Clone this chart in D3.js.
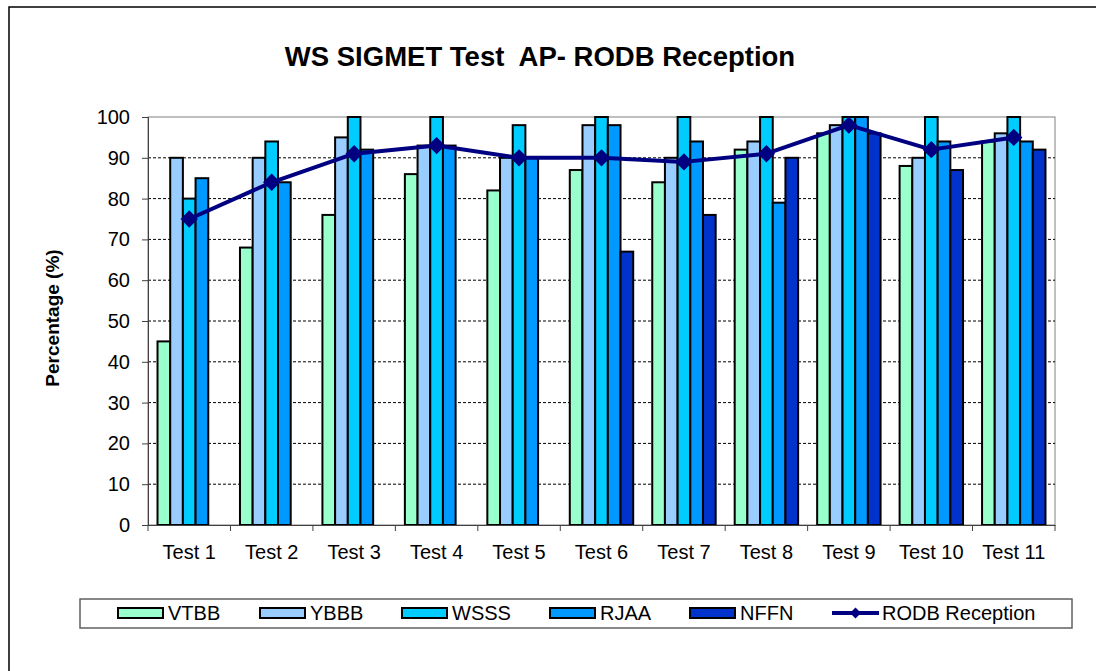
<!DOCTYPE html>
<html>
<head>
<meta charset="utf-8">
<script src="https://cdn.jsdelivr.net/npm/d3@7"></script>
<style>
  body { margin: 0; background: #fff; }
  text { font-family: 'Liberation Sans', Arial, sans-serif; }
</style>
</head>
<body>
<div id="chart"></div>
<script>
// data
const tests = ['Test 1', 'Test 2', 'Test 3', 'Test 4', 'Test 5', 'Test 6', 'Test 7', 'Test 8', 'Test 9', 'Test 10', 'Test 11']
const seriesNames = ['VTBB', 'YBBB', 'WSSS', 'RJAA', 'NFFN']
const vtbb = [45, 68, 76, 86, 82, 87, 84, 92, 96, 88, 94]
const ybbb = [90, 90, 95, 93, 90, 98, 90, 94, 98, 90, 96]
const wsss = [80, 94, 100, 100, 98, 100, 100, 100, 100, 100, 100]
const rjaa = [85, 84, 92, 93, 90, 98, 94, 79, 100, 94, 94]
const nffn = [null, null, null, null, null, 67, 76, 90, 96, 87, 92]
const rodb = [75, 84, 91, 93, 90, 90, 89, 91, 98, 92, 95]
const yTicks = [0, 10, 20, 30, 40, 50, 60, 70, 80, 90, 100]

const seriesValues = [vtbb, ybbb, wsss, rjaa, nffn]
const colors = ['#99FFCC', '#99CCFF', '#00CCFF', '#0099FF', '#0033CC']
const lineColor = '#000080'

// Dimensions
const dimensions = {
  width: 1096,
  height: 671,
  margins: { left: 148, right: 41, top: 117, bottom: 146 },
}
const ctrW = dimensions.width - dimensions.margins.left - dimensions.margins.right
const ctrH = dimensions.height - dimensions.margins.top - dimensions.margins.bottom

// Scales
const xScale = d3.scaleBand().domain(tests).range([0, ctrW]).padding(0)
const subScale = d3.scaleBand().domain(seriesNames).range([0, xScale.bandwidth()]).paddingInner(0).paddingOuter(0.75)
const yScale = d3.scaleLinear().domain([0, 100]).range([ctrH, 0])

const svg = d3
  .select('#chart')
  .append('svg')
  .attr('width', dimensions.width)
  .attr('height', dimensions.height)

// outer chart border
svg.append('rect')
  .attr('x', 9).attr('y', 7)
  .attr('width', dimensions.width + 20).attr('height', dimensions.height + 20)
  .attr('fill', 'none').attr('stroke', '#000').attr('stroke-width', 1.5)

// title
svg.append('text')
  .attr('x', 540).attr('y', 66)
  .attr('text-anchor', 'middle')
  .style('white-space', 'pre')
  .style('font-size', '27.5px').style('font-weight', 'bold')
  .text('WS SIGMET Test  AP- RODB Reception')

const ctr = svg.append('g')
  .attr('transform', `translate(${dimensions.margins.left}, ${dimensions.margins.top})`)

// plot area border
ctr.append('rect')
  .attr('width', ctrW).attr('height', ctrH)
  .attr('fill', 'none').attr('stroke', '#808080').attr('stroke-width', 1)

// gridlines
ctr.append('g')
  .selectAll('line')
  .data(yTicks.filter((d) => d > 0 && d < 100))
  .join('line')
  .attr('x1', 0).attr('x2', ctrW)
  .attr('y1', (d) => yScale(d)).attr('y2', (d) => yScale(d))
  .attr('stroke', '#000').attr('stroke-width', 1).attr('stroke-dasharray', '3,2')

// bars
const groups = ctr.selectAll('g.group')
  .data(tests)
  .join('g')
  .attr('class', 'group')
  .attr('transform', (d) => `translate(${xScale(d)},0)`)

groups.selectAll('rect')
  .data((t, i) => seriesNames.map((s, j) => ({ s, j, v: seriesValues[j][i] })).filter((d) => d.v != null))
  .join('rect')
  .attr('x', (d) => subScale(d.s))
  .attr('width', subScale.bandwidth())
  .attr('y', (d) => yScale(d.v))
  .attr('height', (d) => ctrH - yScale(d.v))
  .attr('fill', (d) => colors[d.j])
  .attr('stroke', '#000').attr('stroke-width', 2)

// y axis
const yAxis = d3.axisLeft(yScale).tickValues(yTicks).tickSize(6).tickPadding(12)
const yAxisGroup = ctr.append('g').call(yAxis)
yAxisGroup.select('.domain').attr('stroke', '#404040')
yAxisGroup.selectAll('.tick line').attr('stroke', '#404040')
yAxisGroup.selectAll('text').style('font-size', '20px').attr('fill', '#000')
  .style('font-family', "'Liberation Sans', Arial, sans-serif")

// x axis
const xAxis = d3.axisBottom(xScale).tickSize(0).tickPadding(20)
const xAxisGroup = ctr.append('g').attr('transform', `translate(0, ${ctrH})`).call(xAxis)
xAxisGroup.select('.domain').attr('stroke', '#404040')
xAxisGroup.selectAll('text').style('font-size', '20px').attr('fill', '#000')
  .style('font-family', "'Liberation Sans', Arial, sans-serif")
xAxisGroup.selectAll('.bound')
  .data(tests.map((t) => xScale(t)).concat([ctrW]))
  .join('line')
  .attr('class', 'bound')
  .attr('x1', (d) => d).attr('x2', (d) => d)
  .attr('y1', 0).attr('y2', 6)
  .attr('stroke', '#404040')

// line series
const line = d3.line()
  .x((d, i) => xScale(tests[i]) + xScale.bandwidth() / 2)
  .y((d) => yScale(d))
ctr.append('path')
  .datum(rodb)
  .attr('d', line)
  .attr('fill', 'none').attr('stroke', lineColor).attr('stroke-width', 4)
  .attr('stroke-linejoin', 'round')

const diamond = d3.symbol().type(d3.symbolSquare).size(150)
ctr.selectAll('.marker')
  .data(rodb)
  .join('path')
  .attr('class', 'marker')
  .attr('d', diamond)
  .attr('transform', (d, i) => `translate(${xScale(tests[i]) + xScale.bandwidth() / 2}, ${yScale(d)}) rotate(45)`)
  .attr('fill', lineColor)

// y label
svg.append('text')
  .attr('transform', 'translate(59, 318) rotate(-90)')
  .attr('text-anchor', 'middle')
  .style('font-size', '19px').style('font-weight', 'bold')
  .text('Percentage (%)')

// legend
const legend = svg.append('g')
legend.append('rect')
  .attr('x', 80).attr('y', 599).attr('width', 992).attr('height', 29)
  .attr('fill', '#fff').attr('stroke', '#606060').attr('stroke-width', 1.5)

const legendX = [118, 260, 402, 550, 690]
const legendItems = legend.selectAll('g.item')
  .data(seriesNames)
  .join('g')
  .attr('class', 'item')
  .attr('transform', (d, i) => `translate(${legendX[i]}, 608)`)
legendItems.append('rect')
  .attr('width', 45).attr('height', 10)
  .attr('fill', (d, i) => colors[i])
  .attr('stroke', '#000').attr('stroke-width', 2)
legendItems.append('text')
  .attr('x', 50).attr('y', 12)
  .style('font-size', '20px')
  .text((d) => d)

const lineItem = legend.append('g').attr('transform', 'translate(832, 613)')
lineItem.append('line')
  .attr('x1', 0).attr('x2', 47)
  .attr('stroke', lineColor).attr('stroke-width', 4)
lineItem.append('path')
  .attr('d', d3.symbol().type(d3.symbolSquare).size(60))
  .attr('transform', 'translate(23.5, 0) rotate(45)')
  .attr('fill', lineColor)
lineItem.append('text')
  .attr('x', 50).attr('y', 7)
  .style('font-size', '20px')
  .text('RODB Reception')
</script>
</body>
</html>
